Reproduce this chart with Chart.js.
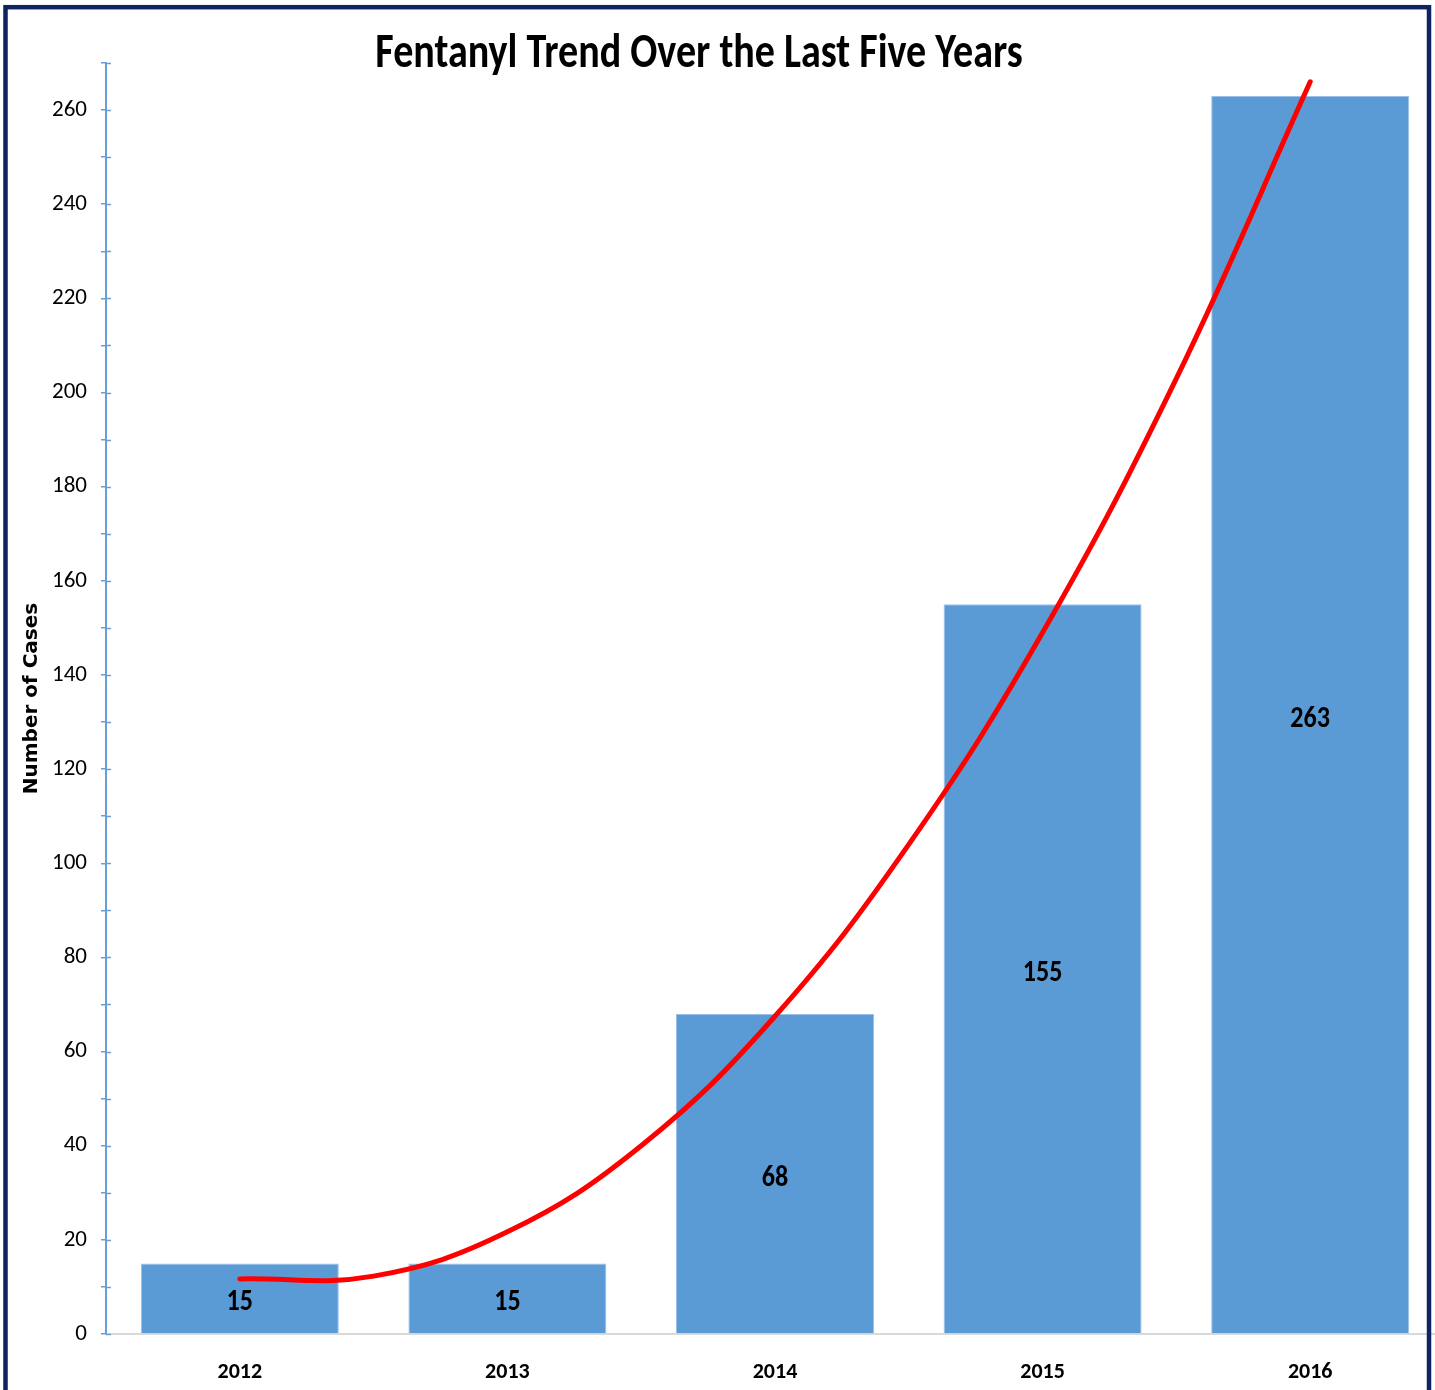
<!DOCTYPE html>
<html><head><meta charset="utf-8">
<script src="https://cdn.jsdelivr.net/npm/chart.js@4.4.1/dist/chart.umd.min.js"></script>
<style>
html,body{margin:0;padding:0;background:#fff;overflow:hidden;}
#wrap{position:relative;width:1435px;height:1390px;overflow:hidden;background:#fff;}
canvas{position:absolute;left:0;top:0;}
</style></head><body>
<div id="wrap"><canvas id="c" width="1444" height="1390"></canvas></div>
<script>
const chartTitle = 'Fentanyl Trend Over the Last Five Years';
const yAxisTitle = 'Number of Cases';
const years = ['2012', '2013', '2014', '2015', '2016'];
const cases = [15, 15, 68, 155, 263];
// trendline at category positions (0 = 2012 ... 4 = 2016)
const trendPositions = [0, 0.5, 1, 1.5, 2, 2.5, 3, 3.5, 4];
const trendValues = [11.7, 12.3, 21.7, 40, 67.5, 104, 149, 203, 266];
const yMin = 0, yMax = 270, yStep = 10, yLabelStep = 20;

const FONT = "Carlito, 'Liberation Sans Narrow', 'DejaVu Sans Condensed', 'Arial Narrow', sans-serif";
const BAR_COLOR = '#5B9BD5';
const AXIS_BLUE = '#6A9FD6';

const framePlugin = {
  id: 'frame',
  afterDraw(chart) {
    const ctx = chart.ctx;
    ctx.save();
    ctx.strokeStyle = '#0D2461';
    ctx.lineWidth = 4.5;
    ctx.strokeRect(5.5, 7.2, 1423.5, 1420);
    ctx.restore();
  }
};

function stretchedText(ctx, text, x, y, size, sx) {
  ctx.save();
  ctx.translate(x, y);
  ctx.scale(sx, 1);
  ctx.font = 'bold ' + size + 'px ' + FONT;
  ctx.fillStyle = '#000';
  ctx.textAlign = 'center';
  ctx.textBaseline = 'alphabetic';
  ctx.fillText(text, 0, 0);
  ctx.restore();
}

const titlePlugin = {
  id: 'customTitle',
  afterDraw(chart) {
    stretchedText(chart.ctx, chartTitle, 699, 67, 48, 0.835);
  }
};

const innerTicksPlugin = {
  id: 'innerTicks',
  afterDraw(chart) {
    const s = chart.scales.y;
    const ctx = chart.ctx;
    ctx.save();
    ctx.strokeStyle = AXIS_BLUE;
    ctx.lineWidth = 1.5;
    s.ticks.forEach(t => {
      const y = Math.round(s.getPixelForValue(t.value)) + 0.5;
      ctx.beginPath();
      ctx.moveTo(s.right, y);
      ctx.lineTo(s.right + 5, y);
      ctx.stroke();
    });
    ctx.restore();
  }
};

const barLabelPlugin = {
  id: 'barLabels',
  afterDatasetsDraw(chart) {
    const idx = chart.data.datasets.findIndex(d => d.type === 'bar');
    const meta = chart.getDatasetMeta(idx);
    meta.data.forEach((bar, i) => {
      const p = bar.getProps(['x', 'y', 'base'], true);
      stretchedText(chart.ctx, String(cases[i]), p.x, (p.y + p.base) / 2 + 12, 30, 0.87);
    });
  }
};

new Chart(document.getElementById('c'), {
  data: {
    labels: years,
    datasets: [
      {
        type: 'line',
        label: 'Trend',
        data: trendPositions.map((x, i) => ({ x: x, y: trendValues[i] })),
        xAxisID: 'x2',
        borderColor: '#FF0000',
        borderWidth: 5,
        borderCapStyle: 'round',
        pointRadius: 0,
        tension: 0.4,
        fill: false,
        order: 1
      },
      {
        type: 'bar',
        label: 'Cases',
        data: cases,
        xAxisID: 'x',
        grouped: false,
        backgroundColor: BAR_COLOR,
        borderColor: '#9CC1E8',
        borderWidth: 1,
        barPercentage: 0.74,
        categoryPercentage: 1,
        order: 2
      }
    ]
  },
  options: {
    responsive: false,
    animation: false,
    layout: { padding: { top: 63, left: 0, right: 0, bottom: 5 } },
    plugins: { legend: { display: false }, tooltip: { enabled: false }, title: { display: false } },
    scales: {
      x: {
        type: 'category',
        offset: true,
        afterFit(scale) { scale.height = 51; },
        grid: { display: true, drawOnChartArea: false, drawTicks: false },
        border: { display: true, color: '#D9D9D9', width: 2 },
        ticks: { color: '#000', padding: 25, font: { family: FONT, size: 22, weight: 'bold' }, maxRotation: 0 }
      },
      x2: {
        type: 'linear',
        display: false,
        min: -0.5,
        max: 4.5,
        ticks: { display: false },
        grid: { display: false, drawTicks: false },
        border: { display: false },
        afterFit(scale) { scale.height = 0; }
      },
      y: {
        type: 'linear',
        min: yMin,
        max: yMax,
        afterFit(scale) { scale.width = 106; },
        grid: { display: true, drawOnChartArea: false, drawTicks: true, tickLength: 5, color: AXIS_BLUE, lineWidth: 1.5 },
        border: { display: true, color: AXIS_BLUE, width: 2 },
        ticks: {
          stepSize: yStep,
          autoSkip: false,
          padding: 14,
          color: '#000',
          font: { family: FONT, size: 23 },
          callback: v => (v % yLabelStep === 0 ? String(v) : '')
        },
        title: {
          display: true,
          text: yAxisTitle,
          color: '#000',
          font: { family: "'DejaVu Sans', Verdana, sans-serif", size: 20, weight: 'bold' },
          lineHeight: 1.2,
          padding: { top: 20, bottom: 0 }
        }
      }
    }
  },
  plugins: [framePlugin, titlePlugin, innerTicksPlugin, barLabelPlugin]
});
</script>
</body></html>
